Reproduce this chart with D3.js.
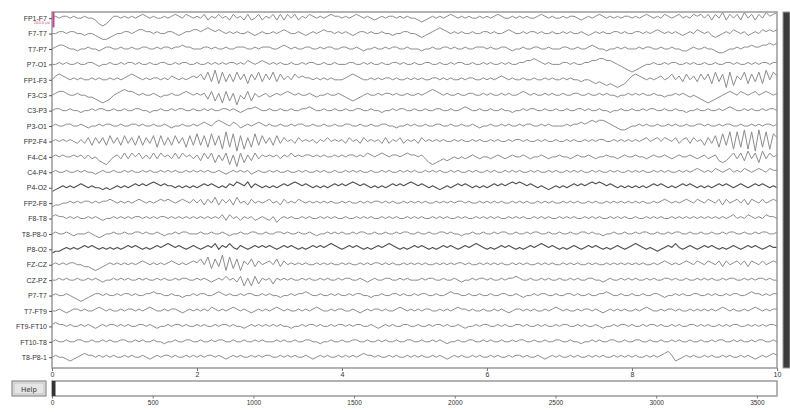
<!DOCTYPE html>
<html><head><meta charset="utf-8">
<script src="https://cdn.jsdelivr.net/npm/d3@7"></script>
<style>body{margin:0;background:#fff}svg{display:block;font-family:"DejaVu Sans",sans-serif}</style>
</head><body><svg id="c" width="790" height="412"></svg>
<script>
// ---- data (values in units of 25 µV, sampled every 0.05 s, 0..10 s) ----
const channelNames = ["FP1-F7","F7-T7","T7-P7","P7-O1","FP1-F3","F3-C3","C3-P3","P3-O1","FP2-F4","F4-C4","C4-P4","P4-O2","FP2-F8","F8-T8","T8-P8-0","P8-O2","FZ-CZ","CZ-PZ","P7-T7","T7-FT9","FT9-FT10","FT10-T8","T8-P8-1"];
const darkChannels = ["P4-O2","P8-O2"];
const timeTicks = [0,2,4,6,8,10];
const sampleTicks = [0,500,1000,1500,2000,2500,3000,3500];
const sampleMax = 3600;
const windowSec = 10;
const dt = 0.05;
const unitUV = 25;
const scaleBarUV = 200;

const fp1_f7 = [0,1,0,1,1,0,1,0,0,1,0,0,-1,-3,-4,-3,-1,1,1,0, 1,0,1,0,1,2,1,0,1,0,0,1,0,1,2,1,0,2,1,0, 1,0,2,-1,1,0,2,0,1,-1,2,0,1,-1,2,-1,0,2,-1,1, 0,2,-1,2,-1,2,0,2,-1,1,0,2,1,0,1,0,1,2,1,1, 0,1,0,1,2,1,0,1,0,-1,0,1,0,1,1,0,1,0,1,0, 0,-1,-2,-1,0,1,0,1,0,1,2,1,0,1,0,1,0,0,1,0, 1,0,1,2,1,0,0,1,0,1,0,1,0,0,1,2,1,0,1,0, 0,1,0,1,1,0,-1,0,1,0,1,2,1,0,1,0,1,0,1,1, 0,1,0,1,2,1,0,1,0,2,1,0,1,2,0,1,0,2,1,2, 0,2,-1,2,0,3,-1,2,0,2,-1,3,0,2,-1,2,0,3,1,2, 3];
const f7_t7 = [0,0,1,1,0,1,1,0,0,-1,0,0,-1,-2,-3,-3,-2,-1,0,0, 1,1,0,1,2,2,1,1,0,1,0,0,1,1,0,-1,0,1,1,2, 2,1,2,3,2,1,2,1,0,1,0,1,0,0,1,0,-1,0,1,0, 0,1,0,1,2,1,0,0,1,0,-1,0,1,0,1,2,1,1,0,1, 0,1,0,-1,0,1,1,0,1,0,0,1,0,0,-1,0,0,1,1,0, 0,-1,-2,-1,0,1,2,3,2,1,0,1,0,1,0,0,1,0,0,1, 1,0,1,0,0,1,2,1,0,0,1,0,1,1,0,1,0,0,1,0, 0,1,0,1,0,0,1,0,-1,0,1,0,1,0,0,1,1,0,1,0, 0,1,1,0,1,0,1,2,1,0,1,0,1,0,-1,0,1,0,2,1, 0,1,-1,-2,-1,0,1,0,2,1,0,1,-1,0,1,0,2,1,2,1, 2];
const t7_p7 = [0,1,2,2,1,0,0,-1,0,0,1,0,0,-1,0,1,1,0,0,1, 0,0,1,0,0,1,1,0,0,1,0,1,1,0,1,1,2,1,1,0, 0,0,1,1,0,1,0,0,1,0,0,1,1,1,0,0,1,0,1,1, 1,0,0,1,2,1,0,1,0,0,1,1,0,0,1,0,1,1,0,0, 1,1,0,0,1,0,-1,0,0,1,0,0,1,0,1,1,0,0,1,0, 0,0,-1,0,0,1,0,0,1,1,0,1,0,0,1,0,0,1,1,1, 0,1,0,0,1,1,0,-1,0,0,1,0,0,1,1,0,0,1,0,0, 0,1,1,0,0,1,0,0,1,2,1,0,0,-1,0,0,1,0,1,0, 0,0,1,0,1,1,0,0,1,0,0,1,0,0,-1,-1,0,1,0,0, 1,0,0,-1,-2,-2,-1,0,0,1,0,1,1,2,1,1,2,2,3,2, 3];
const p7_o1 = [0,0,1,0,1,0,0,1,0,0,1,1,0,-1,0,0,1,0,0,1, 0,1,1,0,1,0,0,1,0,0,1,1,0,0,1,0,1,1,0,0, 1,0,0,1,0,1,0,1,0,1,1,0,1,0,2,1,0,1,2,1, 0,1,0,1,0,0,1,0,0,1,0,1,1,0,0,1,0,0,1,0, 0,0,1,1,0,0,1,0,1,0,0,1,0,0,1,1,0,1,0,0, 1,0,0,1,1,0,0,1,0,0,1,0,1,1,0,0,1,0,0,1, 0,1,0,0,1,0,1,0,0,1,1,2,2,3,2,1,0,1,0,0, 0,1,1,0,1,0,0,1,1,2,2,3,3,2,2,1,0,-1,-2,-3, -4,-3,-2,-1,0,0,1,0,0,1,0,1,1,0,0,1,0,1,0,0, 1,0,0,1,0,0,1,1,0,1,0,0,1,0,1,0,1,1,0,1, 1];
const fp1_f3 = [0,2,3,2,1,0,1,0,1,0,0,1,0,1,0,0,1,0,1,0, 1,2,3,2,1,0,1,0,1,1,0,1,0,2,1,0,1,0,1,2, 1,3,0,4,-1,5,-2,4,-1,3,-1,4,0,3,-2,3,0,4,-1,3, 0,4,-1,3,0,2,0,3,1,2,1,1,0,1,0,1,0,1,0,0, 0,1,2,3,2,1,0,0,1,0,1,0,1,1,0,1,0,0,1,0, 1,0,1,0,0,1,1,0,1,0,1,0,0,1,0,1,1,0,0,1, 0,1,0,1,2,1,0,1,0,0,1,0,0,1,0,0,1,0,1,0, 0,1,0,1,0,0,-1,0,0,-1,-2,-1,-2,-3,-2,-3,-4,-3,-2,0, 2,3,2,1,0,1,0,1,2,0,1,3,0,2,-1,3,0,2,-1,3, 0,3,-2,4,-1,3,-4,4,-3,2,0,4,-2,3,-1,4,-2,5,0,4, 2];
const f3_c3 = [0,1,2,2,1,0,0,1,0,0,-1,-1,-2,-3,-4,-3,-2,0,1,2, 3,2,2,1,0,1,0,0,1,0,-1,0,0,1,0,0,1,2,1,0, 1,0,1,-2,2,-3,1,-4,2,-3,1,-5,0,-2,2,-3,1,-1,0,1, -1,0,1,0,1,2,1,0,1,0,0,1,0,-1,0,0,1,0,0,1, 0,-1,-2,-3,-2,-1,0,1,0,0,1,0,1,1,0,1,0,0,1,0, 0,1,0,1,2,3,2,1,0,1,0,0,1,0,0,1,1,0,0,1, 0,1,0,0,1,0,1,0,0,1,2,1,0,1,0,0,1,0,1,0, 0,1,0,0,1,1,0,0,1,0,0,1,0,1,0,0,-1,0,0,1, 0,1,0,1,0,0,1,0,0,-1,0,0,1,0,1,0,-1,0,-1,-2, -3,-4,-3,-2,-1,0,1,2,1,0,2,1,0,1,2,0,1,2,1,0, 1];
const c3_p3 = [0,1,1,0,0,1,0,0,-1,0,0,1,0,1,1,0,0,1,0,0, 1,0,0,1,1,0,0,-1,0,0,1,0,0,1,0,1,1,0,0,1, 0,0,1,0,1,0,0,1,1,0,1,0,-1,0,1,1,2,1,0,0, 1,0,0,1,0,0,1,0,0,1,1,2,1,0,0,1,0,0,1,0, 0,1,0,0,1,1,0,0,1,0,0,-1,0,0,1,0,1,1,0,0, 1,0,0,1,0,0,1,1,0,0,1,0,0,1,2,1,0,0,1,0, 0,1,0,0,1,0,0,-1,0,0,1,0,1,1,0,0,1,0,0,1, 0,0,1,0,0,1,1,0,1,0,0,1,0,0,-1,0,0,1,0,0, 1,0,0,1,0,1,1,0,0,1,0,0,1,0,0,-1,0,0,1,0, 0,1,0,0,1,0,1,2,1,0,0,1,0,1,0,0,1,0,1,1, 0];
const p3_o1 = [0,1,0,0,1,1,0,0,1,0,-1,0,0,1,0,1,1,0,0,1, 0,0,1,1,0,1,0,0,1,0,0,1,0,-1,0,0,1,0,0,1, 0,1,2,1,0,2,3,2,1,0,2,1,-1,0,1,0,1,2,1,0, 1,0,0,1,0,0,1,0,1,1,0,0,1,0,0,1,0,0,1,0, 0,1,1,0,0,1,0,0,1,0,0,1,1,0,0,-1,0,0,1,0, 1,0,0,1,0,0,1,1,0,0,1,0,0,1,0,0,1,0,-1,0, 0,1,0,0,1,0,1,0,0,1,0,1,1,0,0,1,0,1,0,0, 0,0,1,0,1,1,2,1,2,3,2,3,3,2,1,0,-1,-2,-2,-1, 0,0,1,0,1,0,0,1,0,0,1,0,1,0,0,1,0,0,1,1, 0,1,0,0,1,0,1,1,0,0,1,0,0,1,0,1,0,1,1,0, 1];
const fp2_f4 = [0,1,0,1,0,1,0,-1,1,-1,2,-2,2,-1,2,-2,3,-1,2,-2, 3,-1,2,-2,3,-2,2,-1,3,-3,3,-2,2,-2,3,-1,2,-3,3,-2, 4,-2,3,-3,4,-2,3,-4,5,-3,4,-5,3,-4,2,-3,4,-2,3,-1, 2,-2,3,-1,2,0,1,-1,2,0,1,0,1,-1,1,0,2,0,1,0, 1,-1,2,0,1,-1,2,0,1,0,1,-1,2,-1,1,0,2,-1,1,0, 1,-1,2,0,1,0,1,0,1,0,0,1,0,1,0,0,1,0,1,0, 0,1,0,1,0,0,1,0,1,1,0,1,0,0,1,0,1,0,0,1, 0,0,1,0,1,0,0,1,0,1,0,1,1,0,0,1,0,1,0,1, 0,1,0,1,2,0,1,2,0,2,1,0,2,-1,1,2,-1,2,0,1, -2,2,-1,3,-3,4,-2,5,-4,5,-3,6,-4,5,-5,6,-3,5,-4,4, 2];
const f4_c4 = [0,1,0,1,0,0,1,0,1,-1,1,-1,0,-2,-3,-4,-2,0,1,-1, 2,-1,2,0,2,-1,1,-1,2,-1,2,0,1,-1,2,-1,2,0,1,-1, 1,-2,2,-1,2,-3,1,-2,2,-4,1,-5,2,-3,1,-2,2,-1,1,0, 1,0,1,-1,1,0,2,0,1,0,1,1,0,1,0,1,0,0,1,0, 1,0,1,1,0,1,0,2,1,0,1,2,1,0,1,1,0,1,2,1, 1,0,1,-1,-3,-4,-3,-2,-1,-2,-1,0,-1,0,-1,0,1,0,-1,0, 0,-1,0,1,0,-1,0,1,0,0,1,0,-1,0,0,1,0,-1,0,0, 1,0,0,-1,0,1,0,0,1,0,-1,0,0,1,0,0,-1,0,1,0, 0,1,0,0,-1,0,1,0,0,1,0,-1,0,1,0,0,1,0,-1,0, 1,-1,0,1,-2,-3,-2,0,2,-1,2,-2,3,-1,2,-3,3,-1,2,0, 1];
const c4_p4 = [0,1,0,0,1,0,0,1,0,1,0,0,-1,0,1,0,0,1,0,0, 1,0,1,0,0,1,0,1,0,0,1,0,1,0,1,0,0,1,0,1, 0,1,0,1,0,0,1,0,-1,0,1,0,1,0,1,-1,0,1,0,0, 1,0,1,0,0,1,0,0,1,0,1,0,0,1,0,1,0,0,1,0, 0,1,0,1,0,1,0,0,1,0,0,1,0,1,0,0,1,0,1,0, 1,0,0,1,0,1,0,1,0,0,1,0,1,0,0,1,0,1,0,0, 1,0,1,0,0,1,0,1,0,1,0,0,1,0,1,0,0,1,0,1, 0,0,1,0,1,0,1,0,0,1,0,1,0,0,1,0,1,0,0,1, 0,1,0,1,0,0,1,0,1,0,1,0,0,1,0,1,0,1,2,1, 0,1,0,2,1,0,1,2,0,1,0,2,1,0,1,2,1,0,2,1, 1];
const p4_o2 = [-2,-1,0,1,0,1,0,1,2,1,0,1,0,0,-1,0,-1,0,1,0, 1,0,1,2,1,2,1,2,3,2,1,2,1,1,0,1,0,1,0,1, 0,1,2,1,2,1,0,1,0,2,1,3,2,1,3,0,2,1,0,1, 0,1,0,1,2,1,2,3,2,1,2,1,0,1,0,1,0,1,2,1, 2,1,2,3,2,1,2,1,0,1,0,1,0,1,2,1,2,1,2,3, 2,1,2,1,0,1,0,-1,0,1,0,1,2,1,2,1,0,1,0,1, 0,1,2,1,2,1,2,3,2,3,2,1,2,1,0,1,0,-1,0,1, 0,1,0,1,2,1,2,1,2,3,2,3,2,1,2,1,0,1,0,1, 0,1,0,1,0,1,2,1,2,1,0,1,0,1,2,1,2,1,0,1, 0,1,0,1,2,1,2,1,0,1,2,1,0,1,2,1,2,1,0,1, 0];
const fp2_f8 = [-2,-1,-1,0,0,1,0,1,0,1,1,0,1,0,1,1,2,1,0,1, 0,1,0,1,2,1,0,1,0,1,2,1,2,1,0,1,2,1,0,2, 0,2,-1,2,0,3,-1,2,0,2,-1,3,0,1,-1,2,0,1,0,1, 2,0,1,-1,2,0,1,0,2,1,0,1,0,1,0,1,0,1,0,0, 1,0,1,0,0,1,0,1,0,1,1,0,1,0,1,0,0,1,0,1, 0,1,0,1,0,0,1,0,1,0,1,0,1,1,0,1,0,0,1,0, 1,0,1,0,1,0,0,1,0,1,0,1,0,0,1,0,1,0,1,0, 0,1,0,1,0,1,0,0,1,0,1,0,0,1,0,1,0,1,0,1, 0,1,0,1,0,0,1,0,1,2,1,0,1,0,1,2,1,0,2,1, 0,2,1,0,2,-1,2,0,1,2,0,2,-1,2,1,0,2,0,1,2, 1];
const f8_t8 = [1,2,1,1,0,1,0,1,0,0,1,0,1,0,-1,0,0,1,0,1, 0,1,0,1,1,0,1,0,1,0,1,1,0,1,0,1,0,1,0,1, 0,1,0,1,0,1,0,2,-1,2,0,1,-1,1,0,1,-1,0,1,0, -1,1,-2,0,1,0,1,0,0,1,0,1,0,0,1,0,1,0,1,0, 0,1,0,0,1,0,1,0,1,0,0,1,0,1,0,1,0,0,1,0, 1,0,1,0,0,1,0,1,0,1,0,0,1,0,1,0,0,1,0,1, 0,1,0,1,0,0,1,0,1,0,1,0,0,1,0,1,0,1,0,0, 1,0,1,0,1,0,0,1,0,1,0,1,0,0,1,0,1,0,1,0, 0,1,0,0,1,0,1,0,1,0,0,1,0,1,0,1,0,1,0,1, 0,1,0,1,0,1,0,1,2,0,1,0,2,1,0,1,0,2,1,1, 0];
const t8_p8_0 = [0,1,0,0,1,0,-1,0,0,0,1,0,-1,-2,-1,0,0,1,0,0, 1,0,0,1,1,0,1,0,0,1,0,-1,0,0,1,0,1,1,0,0, 0,1,0,0,1,0,0,1,0,-1,0,0,1,0,0,1,1,0,0,1, 0,0,1,1,0,1,0,0,1,0,0,1,0,-1,0,0,1,0,1,0, 1,0,0,1,0,1,1,0,0,1,0,0,1,0,0,1,0,1,1,0, 0,1,0,0,1,0,0,1,1,0,1,0,0,-1,0,0,1,0,0,1, 0,0,1,0,1,1,0,0,1,0,0,1,0,1,1,0,0,1,0,0, 1,0,0,1,0,0,1,1,0,1,0,0,-1,0,0,1,0,0,1,0, 0,1,0,1,1,0,0,1,0,0,1,0,1,1,0,0,1,0,0,1, 0,0,1,0,0,1,0,1,1,0,0,1,0,0,1,0,1,1,0,0, 1];
const p8_o2 = [-2,-1,-1,0,1,0,1,0,1,2,1,2,1,0,1,0,1,0,1,0, 1,2,1,2,1,0,1,0,1,2,1,2,3,2,1,2,1,0,1,2, 1,0,1,2,1,3,0,2,1,3,1,0,2,1,0,1,2,1,2,1, 2,1,0,1,2,1,2,1,0,1,0,1,2,1,2,1,2,3,2,1, 0,1,2,1,2,1,0,1,0,1,2,1,2,3,2,1,0,1,0,1, 2,1,2,1,0,1,0,1,2,1,2,1,0,1,2,1,2,3,2,1, 0,1,0,1,2,1,2,1,0,1,0,1,2,1,2,3,2,1,2,1, 0,1,0,1,2,1,0,1,2,1,2,1,0,1,0,1,2,1,0,1, 2,3,2,1,0,1,0,-1,0,1,2,1,3,1,0,1,2,1,0,1, 2,1,2,1,0,1,0,1,2,1,0,1,2,1,2,1,0,1,2,1, 1];
const fz_cz = [0,1,0,1,0,1,1,0,0,-1,-1,-2,-3,-2,-1,0,1,0,1,0, 1,0,1,0,1,2,1,0,1,0,1,0,1,2,1,0,1,0,1,2, 1,3,0,4,-2,3,-1,5,-3,4,-2,3,-3,2,0,3,-1,2,0,1, 2,0,3,-1,2,0,1,0,1,0,1,0,0,1,0,1,0,1,0,0, 1,0,1,0,0,1,0,1,0,1,1,0,1,0,1,0,0,1,0,1, 0,1,0,1,0,0,1,0,1,0,1,0,1,1,0,1,0,0,1,0, 1,0,1,0,1,0,0,1,0,1,0,1,0,0,1,0,1,0,1,0, 0,1,0,1,0,1,0,0,1,0,1,0,0,1,0,1,0,1,0,1, 0,1,0,1,0,0,1,0,1,2,1,0,1,0,1,2,1,0,2,1, 0,2,1,0,2,-1,2,0,1,2,0,2,-1,2,1,0,2,0,1,2, 1];
const cz_pz = [0,0,1,0,1,0,0,1,0,0,1,0,1,0,-1,0,0,1,0,1, 0,1,0,0,1,0,1,0,0,1,0,1,0,0,1,0,1,1,0,0, 1,0,1,0,-1,0,1,0,2,0,1,-1,2,-3,1,-3,2,-2,1,0, 1,-2,1,0,1,0,1,0,0,1,0,1,0,0,1,0,1,0,0,1, 0,1,1,0,0,1,0,-1,0,1,0,0,1,1,0,0,1,0,1,0, 0,0,1,0,1,1,0,0,1,0,0,1,0,-1,0,0,1,0,1,1, 0,1,0,0,1,0,1,1,2,1,0,0,1,0,0,1,0,1,0,0, 1,0,0,1,0,1,0,0,1,1,0,0,-1,0,1,0,0,1,0,1, 0,1,0,0,1,0,1,0,0,1,1,0,1,0,0,1,0,0,1,0, 1,0,1,0,0,1,0,1,1,0,0,1,0,1,0,1,1,0,1,0, 0];
const p7_t7 = [0,1,0,0,1,0,-1,-2,-3,-2,-1,0,1,1,0,1,0,0,1,0, 1,1,0,1,0,0,1,1,2,1,1,0,0,1,0,0,-1,0,0,1, 0,1,1,0,0,1,2,1,0,1,0,0,1,0,1,1,0,0,1,0, 1,0,0,-1,0,0,1,0,1,1,2,1,0,0,1,0,0,1,0,1, 0,0,1,0,1,1,0,0,-1,0,0,1,0,0,1,1,0,1,0,0, 1,0,1,1,0,0,1,0,0,1,2,1,1,0,0,1,0,0,1,0, 0,1,0,0,1,1,0,0,1,0,-1,0,0,1,0,1,1,0,0,1, 0,0,1,1,0,1,0,0,1,0,0,1,1,2,1,0,0,1,0,0, 1,0,0,1,0,0,1,1,0,-1,0,0,1,0,1,0,0,1,1,0, 0,1,0,1,0,0,1,0,1,1,0,0,1,2,1,1,0,1,0,1, 1];
const t7_ft9 = [0,0,1,0,-1,0,1,1,0,1,0,0,1,2,1,0,1,0,0,1, 0,1,1,0,1,0,1,2,1,0,0,1,0,1,1,0,-1,0,1,0, 1,0,1,0,2,1,0,1,0,1,2,1,0,1,0,-1,0,1,0,1, 0,1,2,1,0,1,0,0,1,0,1,0,1,2,1,0,0,1,0,1, 1,0,0,1,0,-1,0,1,0,1,1,0,1,0,0,1,2,1,0,1, 0,1,0,1,1,0,0,1,0,1,0,1,2,1,1,0,1,0,0,1, 0,0,1,0,1,0,-1,0,1,1,0,1,0,1,0,0,1,0,1,2, 1,0,1,0,0,1,0,1,1,0,1,0,-1,0,1,0,1,0,1,0, 0,1,0,1,2,1,0,0,1,0,1,1,0,1,0,0,1,0,1,0, 1,0,1,0,1,2,1,0,1,0,0,1,0,1,2,1,0,1,0,1, 1];
const ft9_ft10 = [1,2,1,1,0,1,0,0,1,0,1,0,-1,0,1,0,1,1,0,1, 0,1,0,0,1,1,0,1,0,-1,0,0,1,0,1,1,0,1,0,0, 1,0,1,0,0,1,0,1,1,0,1,0,0,-1,0,1,0,1,0,1, 0,1,0,1,0,0,-1,0,0,1,0,1,1,0,1,0,0,1,0,1, 1,0,1,0,1,1,0,0,1,0,-1,0,1,0,1,0,0,1,1,0, 0,1,0,0,1,0,1,1,0,1,0,0,1,0,-1,0,0,1,0,1, 1,0,0,1,0,1,0,0,1,1,0,1,0,0,1,0,1,0,0,1, 0,1,1,0,0,1,0,1,0,0,1,0,-1,0,0,1,0,1,1,0, 1,0,0,1,0,1,1,0,1,0,0,1,0,1,0,0,1,1,0,1, 0,1,0,0,1,0,1,0,1,1,0,0,1,0,1,0,1,0,1,1, 0];
const ft10_t8 = [0,1,0,0,1,0,0,1,1,0,0,1,0,0,1,0,1,0,0,1, 1,0,0,1,0,1,0,0,1,0,0,-1,0,0,1,0,0,1,1,0, 0,1,0,0,1,0,1,1,0,0,1,0,0,1,0,0,1,0,1,0, 0,0,1,0,1,0,0,1,0,0,1,1,0,0,-1,0,0,1,0,0, 1,0,0,1,1,0,0,1,0,0,1,0,1,0,0,1,0,0,1,1, 0,0,1,0,0,1,0,1,0,-1,0,0,1,0,0,1,1,0,0,1, 0,1,0,0,1,0,0,1,0,1,1,0,0,1,0,0,1,0,0,1, 1,0,0,1,0,0,-1,0,0,1,0,1,0,0,1,1,0,0,1,0, 0,1,1,0,0,1,0,0,1,0,0,1,0,1,0,0,1,0,0,1, 0,0,1,0,1,1,0,0,1,0,1,0,0,1,0,1,1,0,0,1, 0];
const t8_p8_1 = [0,1,0,0,-1,-2,-1,0,1,2,1,1,0,1,0,1,0,1,0,0, 1,0,1,0,0,1,0,-1,0,1,0,1,1,0,1,0,0,1,0,1, 0,1,0,1,1,0,1,0,-1,0,1,0,1,0,0,1,0,1,0,1, 1,0,0,1,0,1,0,1,0,0,1,0,-1,0,1,0,1,0,0,1, 0,1,0,1,0,1,2,1,1,0,1,0,0,1,0,1,0,0,1,0, 1,0,1,0,0,1,0,1,0,-1,0,1,0,1,0,0,1,0,1,0, 0,1,0,1,0,0,1,0,1,1,0,1,0,0,1,0,-1,0,1,0, 1,0,0,1,0,1,0,0,1,0,1,0,1,0,0,1,0,1,0,1, 0,1,0,0,1,0,1,0,1,2,3,1,-2,-1,0,1,0,1,0,0, 1,0,1,0,0,1,0,1,0,0,1,0,1,0,-1,0,1,0,1,2, 1];

const series = [fp1_f7,f7_t7,t7_p7,p7_o1,fp1_f3,f3_c3,c3_p3,p3_o1,fp2_f4,f4_c4,c4_p4,p4_o2,fp2_f8,f8_t8,t8_p8_0,p8_o2,fz_cz,cz_pz,p7_t7,t7_ft9,ft9_ft10,ft10_t8,t8_p8_1];

// ---- drawing ----
const svg = d3.select("#c");
const L = 52, R = 777, T = 12, B = 368;
const x = d3.scaleLinear().domain([0, windowSec]).range([L, R]);
const y = d3.scaleLinear().domain([-0.4, channelNames.length - 0.3]).range([T, B]);
const axisGray = "#9a9a9a";

svg.append("defs").append("clipPath").attr("id","clip")
  .append("rect").attr("x",L).attr("y",T).attr("width",R-L).attr("height",B-T);

const line = d3.line().curve(d3.curveLinear);
const g = svg.append("g").attr("clip-path","url(#clip)");
series.forEach((vals, ci) => {
  const dark = darkChannels.includes(channelNames[ci]);
  g.append("path")
    .attr("d", line(vals.map((v,i) => [x(i*dt), y(ci - v*unitUV/scaleBarUV)])))
    .attr("fill","none")
    .attr("stroke", dark ? "#505050" : "#8c8c8c")
    .attr("stroke-width", dark ? 1.1 : 1.0)
    .attr("stroke-linejoin","round");
});

// frame
svg.append("rect").attr("x",L).attr("y",T).attr("width",R-L).attr("height",B-T)
  .attr("fill","none").attr("stroke",axisGray).attr("stroke-width",1.5);

// channel axis
const yAxis = d3.axisLeft(y).tickValues(d3.range(channelNames.length))
  .tickFormat(i => channelNames[i]).tickSize(3).tickPadding(2);
const ya = svg.append("g").attr("transform",`translate(${L},0)`).call(yAxis);
ya.select(".domain").remove();
ya.selectAll("line").attr("stroke","#555");
ya.selectAll("text").attr("font-size",7).attr("fill","#333");

// time axis
const xAxis = d3.axisBottom(x).tickValues(timeTicks).tickFormat(d3.format("d")).tickSize(3).tickPadding(1);
const xa = svg.append("g").attr("transform",`translate(0,${B})`).call(xAxis);
xa.select(".domain").remove();
xa.selectAll("line").attr("stroke","#777");
xa.selectAll("text").attr("font-size",7).attr("fill","#333");

// scale bar
svg.append("line").attr("x1",L+1.5).attr("x2",L+1.5).attr("y1",y(-0.4)).attr("y2",y(0.6))
  .attr("stroke","#c2448a").attr("stroke-width",2);
svg.append("text").attr("x",L-2).attr("y",y(0)+6).attr("text-anchor","end")
  .attr("font-size",3.6).attr("fill","#c2448a").text(scaleBarUV.toFixed(1)+" µV");

// right vertical scrollbar
svg.append("rect").attr("x",783).attr("y",T).attr("width",7).attr("height",B-T)
  .attr("fill","#3c3c3c").attr("stroke",axisGray).attr("stroke-width",1);

// horizontal scrollbar
const hx = d3.scaleLinear().domain([0, sampleMax]).range([L, R]);
const HT = 381, HB = 396;
svg.append("rect").attr("x",L).attr("y",HT).attr("width",R-L).attr("height",HB-HT)
  .attr("fill","#fff").attr("stroke",axisGray).attr("stroke-width",1.5);
svg.append("rect").attr("x",hx(0)).attr("y",HT).attr("width",Math.max(3.5,hx(windowSec)-hx(0)))
  .attr("height",HB-HT).attr("fill","#333");
const hAxis = d3.axisBottom(hx).tickValues(sampleTicks).tickFormat(d3.format("d")).tickSize(2.5).tickPadding(2);
const ha = svg.append("g").attr("transform",`translate(0,${HB})`).call(hAxis);
ha.select(".domain").remove();
ha.selectAll("line").attr("stroke","#777");
ha.selectAll("text").attr("font-size",6.5).attr("fill","#333");

// help button
svg.append("rect").attr("x",12).attr("y",381).attr("width",34).attr("height",15)
  .attr("fill","#e6e6e6").attr("stroke","#777").attr("stroke-width",1);
svg.append("rect").attr("x",14).attr("y",383).attr("width",30).attr("height",11)
  .attr("fill","none").attr("stroke","#bbb").attr("stroke-width",0.8);
svg.append("text").attr("x",29).attr("y",391.5).attr("text-anchor","middle")
  .attr("font-size",7).attr("fill","#333").text("Help");
</script></body></html>
